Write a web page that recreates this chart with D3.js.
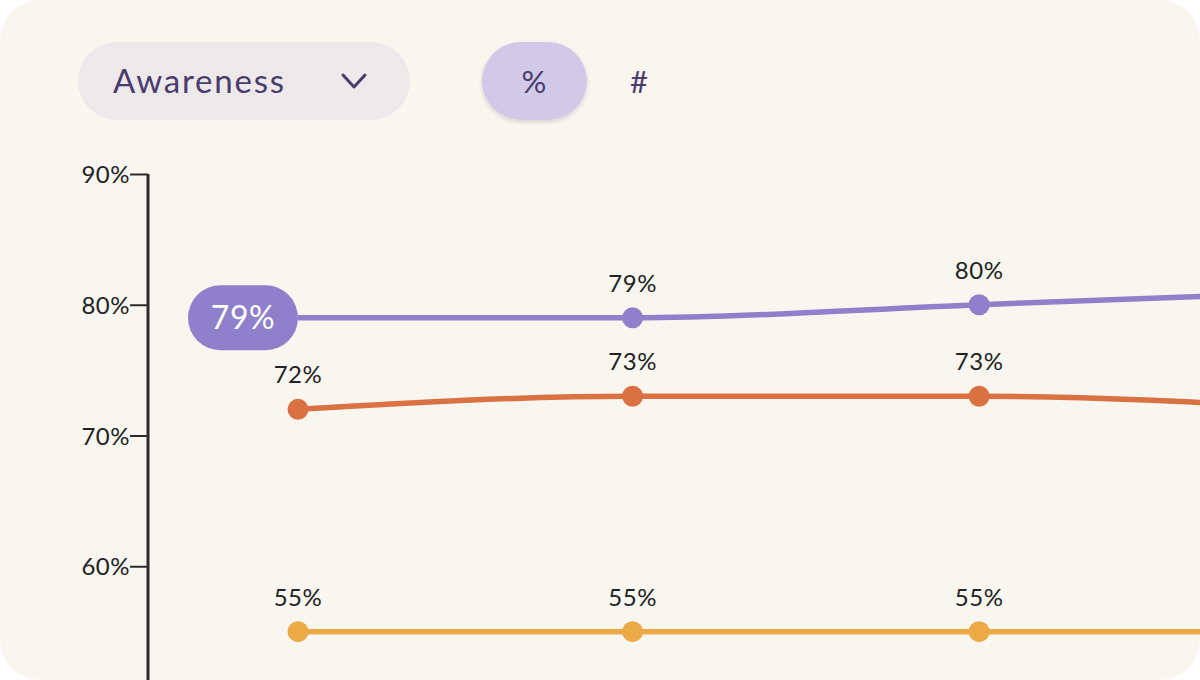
<!DOCTYPE html>
<html>
<head>
<meta charset="utf-8">
<script src="https://cdn.jsdelivr.net/npm/d3@7"></script>
<style>
  html, body { margin: 0; padding: 0; background: #ffffff; }
  svg { display: block; font-family: "Lato", "Noto Sans", sans-serif; }
</style>
</head>
<body>
<div id="chart"></div>
<script>
var svgWidth = 1200;
var svgHeight = 680;

// data
var dates = ["2024-01-01", "2024-01-29", "2024-02-27", "2024-03-27"];
var seriesNames = ["Awareness A", "Awareness B", "Awareness C"];
var purpleValues = [79, 79, 80, 81];
var orangeValues = [72, 73, 73, 72];
var yellowValues = [55, 55, 55, 55];
var yTicks = [60, 70, 80, 90];
var metricLabel = "Awareness";
var modeLabels = ["%", "#"];

var colors = ["#8f80cb", "#d97142", "#ecaa46"];

var parseDate = d3.timeParse("%Y-%m-%d");
var allSeries = [purpleValues, orangeValues, yellowValues].map(function(vals, i) {
  return {
    name: seriesNames[i],
    color: colors[i],
    points: vals.map(function(v, j) { return { date: parseDate(dates[j]), value: v }; })
  };
});

var svg = d3.select("#chart")
  .append("svg")
  .attr("width", svgWidth)
  .attr("height", svgHeight);

// card background
svg.append("rect")
  .attr("x", 0)
  .attr("y", 0)
  .attr("width", svgWidth)
  .attr("height", svgHeight)
  .attr("rx", 40)
  .attr("fill", "#f9f6f0");

var defs = svg.append("defs");
var shadow = defs.append("filter").attr("id", "pillShadow")
  .attr("x", "-20%").attr("y", "-20%").attr("width", "140%").attr("height", "150%");
shadow.append("feDropShadow")
  .attr("dx", 0).attr("dy", 2).attr("stdDeviation", 2)
  .attr("flood-color", "#000").attr("flood-opacity", 0.15);

// header controls
var header = svg.append("g");
header.append("rect")
  .attr("x", 78).attr("y", 42)
  .attr("width", 332).attr("height", 78)
  .attr("rx", 39)
  .attr("fill", "#ede9ea");
header.append("text")
  .attr("x", 113).attr("y", 93)
  .attr("font-size", 33)
  .attr("letter-spacing", 1.8)
  .attr("fill", "#4a3b6b")
  .text(metricLabel);
header.append("path")
  .attr("d", "M343,75 L354,87 L365,75")
  .attr("fill", "none")
  .attr("stroke", "#4a3b6b")
  .attr("stroke-width", 3)
  .attr("stroke-linecap", "round")
  .attr("stroke-linejoin", "round");

header.append("rect")
  .attr("x", 482).attr("y", 42)
  .attr("width", 105).attr("height", 78)
  .attr("rx", 39)
  .attr("fill", "#d0c9e8")
  .attr("filter", "url(#pillShadow)");
header.append("text")
  .attr("x", 534).attr("y", 93)
  .attr("text-anchor", "middle")
  .attr("font-size", 31)
  .attr("fill", "#4a3b6b")
  .text(modeLabels[0]);
header.append("text")
  .attr("x", 639).attr("y", 93)
  .attr("text-anchor", "middle")
  .attr("font-size", 31)
  .attr("fill", "#4a3b6b")
  .text(modeLabels[1]);

// scales
var xScale = d3.scaleTime()
  .domain([parseDate(dates[0]), parseDate(dates[3])])
  .range([298, 298 + 11.95 * 86]);

var yScale = d3.scaleLinear()
  .domain([50, 90])
  .range([697, 174]);

// y axis
var yAxis = svg.append("g")
  .attr("transform", "translate(148,0)")
  .call(d3.axisLeft(yScale).tickValues(yTicks).tickSize(18).tickPadding(0)
    .tickFormat(function(d) { return d + "%"; }));
yAxis.select(".domain")
  .attr("d", "M0," + yScale(90) + "V" + svgHeight)
  .attr("stroke", "#2b2b2b")
  .attr("stroke-width", 3);
yAxis.selectAll(".tick line")
  .attr("stroke", "#2b2b2b")
  .attr("stroke-width", 2);
yAxis.selectAll(".tick text")
  .attr("font-size", 24)
  .attr("letter-spacing", 0.5)
  .attr("fill", "#222")
  .attr("font-family", "Lato, sans-serif")
  .attr("dy", "0.36em");

// lines
var line = d3.line()
  .x(function(d) { return xScale(d.date); })
  .y(function(d) { return yScale(d.value); })
  .curve(d3.curveMonotoneX);

var seriesGroup = svg.append("g");
var groups = seriesGroup.selectAll("g.series")
  .data(allSeries)
  .enter()
  .append("g")
  .attr("class", "series");

groups.append("path")
  .attr("d", function(d) { return line(d.points); })
  .attr("fill", "none")
  .attr("stroke", function(d) { return d.color; })
  .attr("stroke-width", 5.5);

groups.each(function(s, si) {
  var g = d3.select(this);
  s.points.forEach(function(p, i) {
    var cx = xScale(p.date);
    var cy = yScale(p.value);
    if (cx > svgWidth) return; // off the visible card
    if (si === 0 && i === 0) {
      // highlighted first value shown as a pill
      g.append("rect")
        .attr("x", cx - 110).attr("y", cy - 32.5)
        .attr("width", 110).attr("height", 65)
        .attr("rx", 32.5)
        .attr("fill", s.color);
      g.append("text")
        .attr("x", cx - 55).attr("y", cy + 11)
        .attr("text-anchor", "middle")
        .attr("font-size", 32)
        .attr("letter-spacing", 0.5)
        .attr("fill", "#ffffff")
        .text(p.value + "%");
      return;
    }
    g.append("circle")
      .attr("cx", cx).attr("cy", cy)
      .attr("r", 10.5)
      .attr("fill", s.color);
    g.append("text")
      .attr("x", cx).attr("y", cy - 26)
      .attr("text-anchor", "middle")
      .attr("font-size", 24)
      .attr("letter-spacing", 0.5)
      .attr("fill", "#222")
      .text(p.value + "%");
  });
});
</script>
</body>
</html>
